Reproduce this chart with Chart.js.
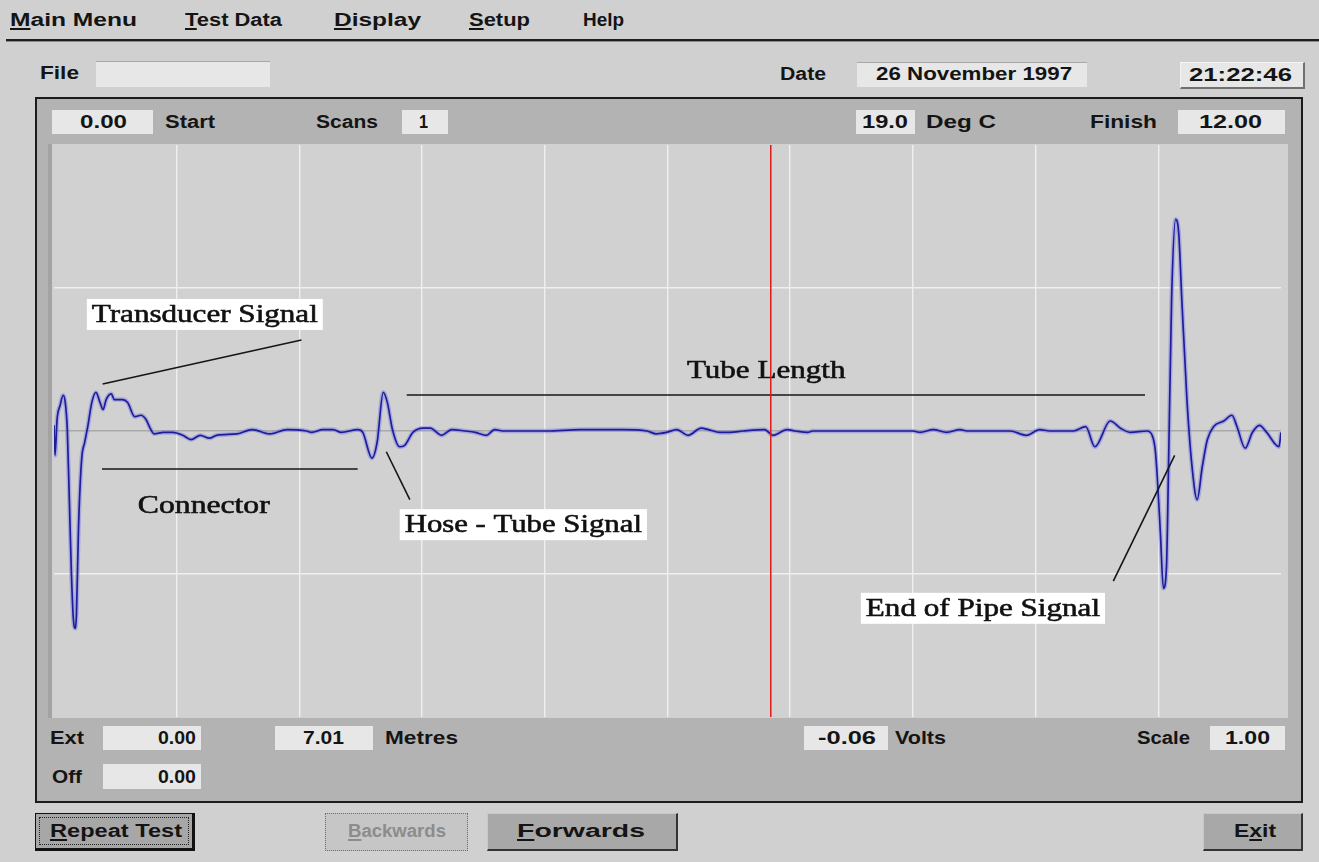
<!DOCTYPE html>
<html><head><meta charset="utf-8">
<script src="https://cdn.jsdelivr.net/npm/chart.js@4.4.1/dist/chart.umd.min.js"></script>
<style>
html,body{margin:0;padding:0;}
body{width:1319px;height:862px;background:#d0d0d0;position:relative;overflow:hidden;font-family:"Liberation Sans",Arial,sans-serif;font-weight:bold;color:#141414;}
.t{position:absolute;white-space:nowrap;font-size:18px;line-height:20px;height:20px;transform-origin:0 50%;}
.box{position:absolute;background:#e7e7e7;}
.panel{position:absolute;left:35px;top:97px;width:1264px;height:702px;background:#b3b3b3;border:2px solid #1c1c1c;}
.plotbg{position:absolute;left:48px;top:144px;width:1236px;height:574px;background:#d1d1d1;border-left:4px solid #a3a3a3;}
.btn{position:absolute;box-sizing:border-box;}
#cv{position:absolute;left:54px;top:145px;}
u{text-decoration-thickness:1.5px;text-underline-offset:2px;}
</style></head>
<body>
<div style="position:absolute;left:6px;top:39px;width:1313px;height:2px;background:#1e1e1e"></div>
<div style="position:absolute;left:6px;top:41px;width:1313px;height:1px;background:#8a8a8a"></div>
<div class="box" style="left:96px;top:61px;width:174px;height:25px;border-top:1px solid #a8a8a8;"></div>
<div class="box" style="left:857px;top:62px;width:230px;height:24px;border-top:1px solid #a8a8a8;"></div>
<div class="box" style="left:1180px;top:62px;width:122px;height:24px;border:1px solid #f4f4f4;border-right:2px solid #707070;border-bottom:2px solid #707070;"></div>
<div class="panel"></div>
<div class="plotbg"></div>
<div class="box" style="left:52px;top:110px;width:101px;height:24px"></div>
<div class="box" style="left:402px;top:110px;width:46px;height:24px"></div>
<div class="box" style="left:856px;top:110px;width:59px;height:24px"></div>
<div class="box" style="left:1178px;top:110px;width:107px;height:24px"></div>
<div class="box" style="left:103px;top:726px;width:98px;height:24px"></div>
<div class="box" style="left:275px;top:726px;width:98px;height:24px"></div>
<div class="box" style="left:804px;top:726px;width:84px;height:24px"></div>
<div class="box" style="left:1210px;top:726px;width:75px;height:24px"></div>
<div class="box" style="left:103px;top:764px;width:98px;height:25px"></div>
<div class="btn" style="left:35px;top:813px;width:160px;height:38px;background:#a7a7a7;border:1px solid #111;border-right:3px solid #111;border-bottom:3px solid #111;">
  <div style="position:absolute;left:3px;top:3px;right:3px;bottom:3px;border:1px dotted #222;"></div></div>
<div class="btn" style="left:325px;top:813px;width:143px;height:38px;background:#c6c6c6;border:1px dotted #6a6a6a;"></div>
<div class="btn" style="left:487px;top:813px;width:191px;height:38px;background:#a8a8a8;border-top:1px solid #c8c8c8;border-left:1px solid #c8c8c8;border-right:2px solid #333;border-bottom:2px solid #333;"></div>
<div class="btn" style="left:1203px;top:813px;width:100px;height:38px;background:#a8a8a8;border-top:1px solid #c8c8c8;border-left:1px solid #c8c8c8;border-right:2px solid #333;border-bottom:2px solid #333;"></div>
<canvas id="cv" width="1227" height="572"></canvas>
<script>
// ---- chart data: distance along the tube (metres) and measured signal (volts) ----
const distanceM = [0.00,0.01,0.03,0.06,0.09,0.11,0.13,0.15,0.17,0.19,
 0.21,0.22,0.24,0.27,0.30,0.33,0.37,0.41,0.45,0.48,
 0.51,0.56,0.59,0.67,0.72,0.79,0.85,0.90,0.94,0.98,
 1.07,1.16,1.26,1.34,1.43,1.52,1.59,1.79,1.94,2.11,
 2.28,2.47,2.52,2.63,2.73,2.81,2.97,3.02,3.11,3.16,
 3.22,3.26,3.31,3.38,3.43,3.51,3.61,3.68,3.79,3.89,
 4.02,4.12,4.23,4.31,4.39,4.82,5.14,5.56,5.80,5.89,
 5.99,6.09,6.20,6.33,6.40,6.51,6.61,6.74,6.95,7.03,
 7.17,7.25,7.37,7.42,8.40,8.47,8.60,8.73,8.86,8.93,
 9.35,9.51,9.64,9.74,9.97,10.09,10.18,10.33,10.43,10.53,
 10.69,10.74,10.77,10.79,10.82,10.85,10.88,10.90,10.93,10.97,
 11.00,11.03,11.08,11.13,11.18,11.23,11.28,11.34,11.44,11.52,
 11.57,11.65,11.72,11.79,11.86,11.98,12.00];
const signalV = [0.04,-0.17,0.08,0.18,0.25,0.20,0.01,-0.48,-0.99,-1.32,
 -1.38,-1.27,-0.67,-0.20,-0.08,0.03,0.20,0.27,0.20,0.15,
 0.22,0.26,0.22,0.22,0.20,0.10,0.11,0.08,0.02,-0.02,
 -0.01,-0.01,-0.03,-0.06,-0.03,-0.05,-0.03,-0.02,0.01,-0.02,
 0.01,0.00,-0.01,0.01,0.01,-0.01,0.01,-0.01,-0.19,-0.08,
 0.27,0.20,0.01,-0.11,-0.10,-0.01,0.02,0.02,-0.03,0.01,
 0.00,-0.01,-0.03,0.01,0.00,0.00,0.01,0.01,0.00,-0.02,
 -0.01,0.01,-0.03,0.02,0.01,-0.01,-0.01,0.00,0.01,-0.03,
 0.01,0.00,-0.01,0.00,0.00,-0.01,0.01,-0.01,0.01,0.00,
 0.00,-0.03,0.01,0.00,0.00,0.03,-0.11,0.07,0.02,-0.01,
 0.00,-0.03,-0.13,-0.32,-0.71,-1.10,-0.95,-0.25,0.92,1.48,
 1.38,0.92,0.22,-0.25,-0.48,-0.25,-0.06,0.03,0.07,0.11,
 0.03,-0.12,-0.01,0.04,-0.01,-0.11,-0.01];
const startM = 0.00, finishM = 12.00;
const cursorM = 7.01, cursorV = -0.06;
const voltRange = [-2, 2];
const xGridStep = 1.2, yGridStep = 1;

// annotation texts (in data coordinates: metres / volts)
const noteTexts = ['Transducer Signal','Tube Length','Connector','Hose - Tube Signal','End of Pipe Signal'];
const noteM1 = [0.37, 6.19, 0.82, 3.43, 7.94];
const noteM2 = [2.58, 7.74, 2.11, 5.75, 10.23];
const noteV  = [0.815, 0.427, -0.52, -0.655, -1.24];
const noteBox = [true, false, false, true, true];
// leader lines [m1, v1, m2, v2]
const leaders = [[0.476,0.329,2.42,0.636],[3.45,0.252,10.67,0.252],[0.47,-0.266,2.97,-0.266],
                 [3.25,-0.145,3.48,-0.48],[10.36,-1.05,10.96,-0.17]];

// ---------- UI text ----------
function addText(html, x1, x2, yc, extra){
  const s=document.createElement('span'); s.className='t'; s.innerHTML=html;
  s.style.left=x1+'px'; s.style.top=(yc-10)+'px';
  if(extra) Object.assign(s.style, extra);
  document.body.appendChild(s);
  const w=s.getBoundingClientRect().width;
  s.style.transform='scaleX('+((x2-x1)/w).toFixed(3)+')';
}
addText('<u>M</u>ain Menu',10,137,20);
addText('<u>T</u>est Data',185,282,20);
addText('<u>D</u>isplay',334,421,20);
addText('<u>S</u>etup',469,530,20);
addText('Help',583,624,20);
addText('File',40,79,73);
addText('Date',780,826,74);
addText('26 November 1997',876,1072,74);
addText('21:22:46',1189,1292,75);
addText(startM.toFixed(2),80,127,122);
addText('Start',165,215,122);
addText('Scans',316,378,122);
addText('1',419,428,122);
addText('19.0',862,908,122);
addText('Deg C',926,996,122);
addText('Finish',1090,1157,122);
addText(finishM.toFixed(2),1199,1262,122);
addText('Ext',50,84,738);
addText('0.00',158,196,738);
addText(cursorM.toFixed(2),303,344,738);
addText('Metres',385,458,738);
addText(cursorV.toFixed(2),818,876,738);
addText('Volts',895,946,738);
addText('Scale',1137,1190,738);
addText('1.00',1225,1270,738);
addText('Off',52,82,777);
addText('0.00',158,196,777);
addText('<u>R</u>epeat Test',50,182,831);
addText('<u>B</u>ackwards',348,446,831,{color:'#8c8c8c'});
addText('<u>F</u>orwards',517,645,831);
addText('E<u>x</u>it',1234,1276,831);

// ---------- chart ----------
const notesPlugin = {
  id:'notes',
  afterDatasetsDraw(chart){
    const {ctx, scales:{x,y}} = chart;
    ctx.save();
    ctx.strokeStyle='#161616'; ctx.lineWidth=1.6;
    leaders.forEach(l=>{
      ctx.beginPath(); ctx.moveTo(x.getPixelForValue(l[0]), y.getPixelForValue(l[1]));
      ctx.lineTo(x.getPixelForValue(l[2]), y.getPixelForValue(l[3])); ctx.stroke();
    });
    ctx.font='26px "Liberation Serif", "Times New Roman", serif';
    ctx.textBaseline='middle';
    noteTexts.forEach((t,i)=>{
      const px1=x.getPixelForValue(noteM1[i]), px2=x.getPixelForValue(noteM2[i]);
      const py=y.getPixelForValue(noteV[i]);
      if(noteBox[i]){ ctx.fillStyle='#ffffff'; ctx.fillRect(px1-5, py-15.5, px2-px1+10, 31); }
      const w=ctx.measureText(t).width, k=(px2-px1)/w;
      ctx.save(); ctx.translate(px1, py+1); ctx.scale(k,1);
      ctx.fillStyle='#111'; ctx.strokeStyle='#111'; ctx.lineWidth=0.6;
      ctx.fillText(t,0,0); ctx.strokeText(t,0,0); ctx.restore();
    });
    // cursor
    const cx=x.getPixelForValue(cursorM);
    ctx.strokeStyle='#e01818'; ctx.lineWidth=1.5;
    ctx.beginPath(); ctx.moveTo(cx, chart.chartArea.top); ctx.lineTo(cx, chart.chartArea.bottom); ctx.stroke();
    ctx.restore();
  }
};
const pts = distanceM.map((m,i)=>({x:m, y:signalV[i]}));
new Chart(document.getElementById('cv'), {
  type:'line',
  data:{datasets:[
    {data:pts, borderColor:'#1d1d9c', borderWidth:1.7, pointRadius:0, cubicInterpolationMode:'monotone', fill:false, order:0},
    {data:pts, borderColor:'rgba(120,120,225,0.45)', borderWidth:4.5, pointRadius:0, cubicInterpolationMode:'monotone', fill:false, order:1}
  ]},
  options:{
    responsive:false, animation:false, devicePixelRatio:1,
    layout:{padding:0},
    plugins:{legend:{display:false}, tooltip:{enabled:false}},
    scales:{
      x:{type:'linear', min:startM, max:finishM, border:{display:false},
         ticks:{display:false, stepSize:xGridStep},
         grid:{drawTicks:false, lineWidth:1.4, color:c=>(c.index===0||Math.abs(c.tick.value-finishM)<1e-6)?'rgba(0,0,0,0)':'#efefef'}},
      y:{type:'linear', min:voltRange[0], max:voltRange[1], border:{display:false},
         ticks:{display:false, stepSize:yGridStep},
         grid:{drawTicks:false, lineWidth:1.4, color:c=>c.tick.value===0?'#a9a9a9':(Math.abs(c.tick.value)>=voltRange[1]?'rgba(0,0,0,0)':'#efefef')}}
    }
  },
  plugins:[notesPlugin]
});
</script>
</body></html>
